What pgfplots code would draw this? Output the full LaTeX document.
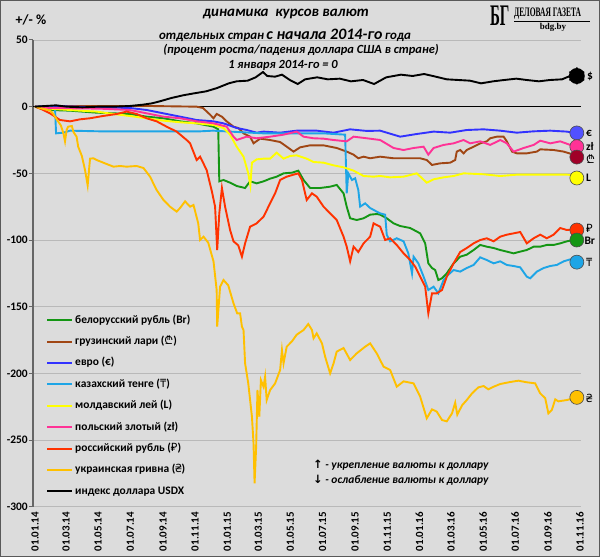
\documentclass[border=0pt]{standalone}
\usepackage{pgfplots}
\pgfplotsset{compat=1.18}
\usepackage{fontspec}
\setmainfont{Carlito}
\newfontfamily\symf{DejaVu Sans}
\newfontfamily\curf{Noto Sans}
\newfontfamily\logof{Liberation Serif}
\definecolor{bg}{RGB}{220,220,220}
\definecolor{cbr}{RGB}{20,150,20}
\definecolor{cge}{RGB}{160,70,20}
\definecolor{cgem}{RGB}{160,0,40}
\definecolor{ceu}{RGB}{50,50,255}
\definecolor{ckz}{RGB}{30,165,230}
\definecolor{cmd}{RGB}{255,255,0}
\definecolor{cpl}{RGB}{255,50,150}
\definecolor{cru}{RGB}{255,50,0}
\definecolor{cua}{RGB}{255,192,0}
\begin{document}
\begin{tikzpicture}
\fill[bg] (0,0) rectangle (600bp,557bp);
\begin{axis}[
 scale only axis, width=547.6bp, height=466.7bp,
 anchor=south west, at={(32.9bp,50.3bp)},
 xmin=-4, xmax=1036, ymin=-300, ymax=50,
 axis lines*=left,
 x axis line style={draw=none},
 y axis line style={draw=gray!80!black, line width=1.5bp},
 xtick={0,59,120,181,243,304,365,424,485,546,608,669,730,790,851,912,974,1035},
 xticklabels={01.01.14,01.03.14,01.05.14,01.07.14,01.09.14,01.11.14,01.01.15,01.03.15,01.05.15,01.07.15,01.09.15,01.11.15,01.01.16,01.03.16,01.05.16,01.07.16,01.09.16,01.11.16},
 xticklabel style={rotate=90, anchor=east, font=\bfseries\fontsize{11}{12}\selectfont, inner sep=1bp},
 xtick style={draw=none},
 ytick={-300,-250,-200,-150,-100,-50,0,50},
 yticklabels={-300,-250,-200,-150,-100,-50,0,50},
 yticklabel style={font=\bfseries\fontsize{11.5}{12}\selectfont, inner sep=1bp},
 ytick style={draw=gray!80!black, line width=1bp},
 tick align=outside, major tick length=4bp,
 ymajorgrids, grid style={draw=gray!55, line width=0.6bp},
 clip=false,
 legend cell align=left,
 legend image code/.code={\draw[#1,line width=2bp] (0bp,0bp) -- (25bp,0bp);},
 legend style={at={(0.024,0.414)}, anchor=north west, draw=none, fill=none,
   font=\bfseries\fontsize{11.5}{13}\selectfont, row sep=8.4bp, inner sep=0pt,
   nodes={inner sep=1bp, text height=8.5bp, text depth=2.5bp},
   /tikz/every odd column/.style={column sep=1bp}},
 every axis plot post/.append style={line width=1.9bp},
]
\draw[black, line width=1.2bp] (axis cs:-4,0) -- (axis cs:1036,0);

\addplot[cbr] coordinates {(0,0) (28.5,-2.5) (66.5,-3) (117,-4.5) (149,-5) (180.5,-5.5) (212,-7.5) (244,-8.7) (275.5,-11) (307,-12.5) (339,-15) (348,-17) (350,-56) (358,-55) (370.5,-57) (383,-59.5) (399,-61) (408.5,-56) (421,-57.5) (434,-56) (446.5,-54) (459,-52.5) (472,-50) (488,-49.5) (500,-48) (510,-55) (522.5,-61) (541.5,-61) (560.5,-60) (573,-58.7) (586,-65) (592,-75) (598.5,-83.7) (611,-85) (624,-83.7) (636.5,-81) (649,-80.5) (655.5,-81) (668,-83.7) (681,-87.5) (693.5,-89.5) (712.5,-91) (731.5,-95) (741,-102.5) (747,-117.5) (754,-121) (760,-122.5) (766,-130) (773,-128.7) (782,-125) (795,-117.5) (807.5,-112.5) (820,-111) (833,-107.5) (845.5,-103.7) (858,-105) (871,-106) (883.5,-107.5) (896,-108.7) (909,-110) (921.5,-108.7) (934,-107.5) (947,-105) (959.5,-105) (972,-103.7) (985,-103.7) (997.5,-102.5) (1010,-101) (1023,-100) (1029,-100)};
\addlegendentry{белорусский рубль (Br)}

\addplot[cge] coordinates {(0,0) (60,0.5) (123.5,0.5) (218.5,0.5) (307,0) (319,-1) (332.5,-6) (339,-8.7) (345,-5.5) (355,-7.5) (364,-11) (377,-15) (386,-16) (396,-20) (408.5,-22.5) (415,-27.5) (427.5,-24) (446.5,-25) (465.5,-26.5) (478,-30) (491,-33.7) (503.5,-30.5) (522.5,-29) (548,-29) (573,-31) (592,-33.7) (605,-36) (614,-38.7) (624,-37.5) (636.5,-38.7) (655.5,-37.5) (681,-38.7) (706,-38.7) (731.5,-38.7) (744,-40) (754,-43.7) (769.5,-42.5) (788.5,-42) (798,-40) (801,-33.7) (807.5,-32.5) (814,-35) (820,-32.5) (833,-30) (845.5,-27.5) (858,-26) (864.5,-23.7) (877,-22.5) (890,-22.5) (896,-26) (906,-33.7) (915,-35) (934,-35) (953,-33.7) (959.5,-32) (985,-32.5) (1004,-33.7) (1023,-36) (1029,-37.8)};
\addlegendentry{грузинский лари ({\curf ₾})}

\addplot[ceu] coordinates {(0,0) (28.5,0.5) (123.5,-0.5) (180.5,-1) (212,-2.5) (244,-5) (275.5,-7.5) (307,-10) (339,-11) (358,-12.5) (383,-16) (402,-17.5) (421,-19.5) (434,-18.7) (465.5,-19.5) (497,-18) (535,-18) (567,-19.5) (598.5,-17) (630,-18.2) (655.5,-18) (693.5,-22.5) (725,-20.5) (757,-18.7) (788.5,-19.5) (820,-17.5) (852,-17) (883.5,-18) (915,-19.5) (947,-18.5) (978.5,-18) (1010,-18.7) (1029,-20)};
\addlegendentry{евро (€)}

\addplot[ckz] coordinates {(0,0) (30,-0.5) (38,-1) (40,-20) (54,-19.5) (66.5,-18) (123.5,-18.5) (218.5,-18.5) (313.5,-18.5) (338,-18) (370.5,-18.7) (433,-20) (498,-20) (547,-20) (589,-21) (592,-65) (595,-50) (602,-55) (608,-53.7) (614,-62.5) (617.5,-75) (627,-72.5) (636.5,-76) (649,-78.7) (655.5,-80) (665,-81) (668,-96) (674.5,-101) (687,-98.7) (700,-101) (709,-110) (716,-125) (719,-112.5) (728,-117.5) (738,-127.5) (747,-137.5) (757,-135) (766,-140) (776,-130) (785,-126) (795,-122.5) (807.5,-123.7) (820,-121) (833,-118.7) (845.5,-113) (858,-115) (871,-117.5) (883.5,-116) (896,-118.7) (909,-119.5) (921.5,-120.5) (934,-127.5) (940.5,-128.7) (953,-123.7) (966,-121) (978.5,-119.5) (991,-118.7) (1004,-116) (1016.5,-114.5) (1029,-116)};
\addlegendentry{казахский тенге ({\curf ₸})}

\addplot[cmd] coordinates {(0,0) (28.5,-1.5) (85.5,-3) (117,-3.7) (149,-5.5) (180.5,-7) (212,-8.7) (244,-10.5) (275.5,-11.7) (307,-12.5) (339,-13.7) (358,-16) (370.5,-21) (383,-30) (396,-37.5) (405,-50) (409,-59) (412,-42) (421,-39.5) (434,-39) (446.5,-39) (459,-34.5) (472,-39) (484.5,-37) (497,-36.5) (516,-39) (529,-41.5) (548,-42) (567,-44) (586,-45.5) (605,-48) (624,-52) (643,-52.5) (655.5,-52) (674.5,-53) (700,-52.5) (725,-50) (744,-57) (757,-54.5) (776,-53) (795,-52) (814,-50) (852,-50.7) (883.5,-52) (915,-51) (947,-51) (978.5,-51) (1010,-51) (1029,-51.5)};
\addlegendentry{молдавский лей (L)}

\addplot[cpl] coordinates {(0,0) (28.5,-1) (123.5,-1.5) (180.5,-2.5) (212,-5) (244,-7.5) (275.5,-8.7) (307,-11) (339,-12.5) (364,-15) (377,-22.5) (383,-25) (402,-22.5) (421,-23.7) (446.5,-22.5) (472,-21) (497,-18.7) (510,-22.5) (529,-23.7) (548,-24) (567,-25) (592,-26) (605,-22.5) (630,-23.7) (655.5,-25) (681,-31) (700,-32.5) (719,-31) (738,-30) (747,-36) (757,-31) (776,-28.7) (795,-27.5) (814,-25) (826.5,-27.5) (845.5,-26) (864.5,-28.7) (883.5,-25) (896,-27.5) (909,-33.7) (928,-31) (947,-28.7) (959.5,-25.5) (978.5,-27.5) (997.5,-26) (1016.5,-28.7) (1029,-30)};
\addlegendentry{польский злотый (zł)}

\addplot[cru] coordinates {(0,0) (13,-2) (28.5,-5) (47.5,-10) (66.5,-11) (85.5,-9.5) (104.5,-8.7) (129,-7) (155,-5.5) (174,-3.7) (193,-5.5) (212,-8.7) (231,-11) (250,-15) (269,-18.7) (288,-25) (294.5,-27.5) (307,-40) (313.5,-37.5) (326,-47.5) (336,-63.7) (342,-75) (346,-107.5) (350,-80) (355,-61) (361,-75) (370.5,-92.5) (377,-101) (386,-104) (393,-112.5) (399,-102.5) (408.5,-90) (421,-87.5) (434,-82.5) (446.5,-72.5) (456,-65) (465.5,-55) (478,-52.5) (491,-51) (500,-50) (507,-55) (516,-70) (526,-65) (535,-67.5) (548,-75) (560.5,-80) (573,-85) (586,-97.5) (592,-105) (598.5,-116) (605,-105) (614,-109) (624,-102.5) (636.5,-97.5) (643,-87.5) (655.5,-90) (665,-100) (674.5,-98.7) (687,-103.7) (700,-110) (712.5,-115) (722,-120) (731.5,-127.5) (741,-135) (747,-155) (754,-140) (763,-140) (773,-137.5) (782,-127.5) (795,-117.5) (807.5,-109) (820,-106) (833,-102.5) (845.5,-100) (858,-98.7) (871,-101) (883.5,-97.5) (896,-96) (909,-95) (921.5,-94) (934,-102.5) (947,-98.7) (959.5,-96) (972,-98.7) (985,-96) (997.5,-91) (1010,-92.5) (1023,-92) (1029,-92.5)};
\addlegendentry{российский рубль ({\curf ₽})}

\addplot[cua] coordinates {(0,0) (28.5,-3) (34,-5) (42,-10) (49,-14) (54,-20) (57,-26) (60,-17.5) (63,-15) (70,-14.5) (73,-19) (79,-22.5) (82,-30) (89,-37) (95,-47.5) (100,-59) (104.5,-39) (111,-38.7) (117,-40) (123.5,-41) (136,-43) (149,-45) (161.5,-44.5) (174,-45) (193,-44.5) (206,-46) (218.5,-52.5) (231,-62.5) (244,-70) (256.5,-75) (269,-78.7) (275.5,-76) (285,-71) (294.5,-75) (301,-73.7) (310,-87.5) (313.5,-100) (320,-97.5) (329,-102) (339,-116) (345,-137.5) (346,-165) (351.5,-135) (358,-130) (367,-134) (377,-147.5) (384,-155) (389.5,-155) (393,-165) (396,-167.5) (399,-192.5) (405,-207.5) (408.5,-220) (412,-232.5) (415,-252.5) (417,-282.5) (420,-255) (422.5,-212.5) (426,-232.5) (429,-205) (434,-210) (437,-202.5) (440,-220) (446.5,-212.5) (456,-207.5) (465.5,-197.5) (469,-182.5) (472,-192.5) (478,-180) (488,-176) (497,-171) (510,-167.5) (519,-163) (526,-167.5) (529,-173.7) (535,-170) (545,-177.5) (551,-187.5) (560.5,-200) (567,-192.5) (573,-183.7) (586,-181) (598.5,-190) (611,-185) (627,-180) (636.5,-177.5) (649,-185) (662,-195) (674.5,-197.5) (687,-210) (700,-206) (719,-207.5) (731.5,-217.5) (744,-233.7) (754,-227) (763,-228.7) (773,-235) (782,-236) (792,-230) (798,-222) (802,-231) (811,-224) (820,-220) (830,-215) (842,-210.5) (852,-209.5) (861,-212) (871,-210) (883.5,-208) (902.5,-206.5) (918,-205.5) (934,-206.7) (950,-207.5) (959.5,-215) (969,-218.7) (975,-230) (981.5,-227.5) (988,-219.5) (994,-221) (1010,-220) (1023,-218.7) (1029,-218)};
\addlegendentry{украинская гривна ({\curf ₴})}

\addplot[black] coordinates {(0,0) (20,0.5) (40,1) (60,0) (90,-0.5) (120,0) (150,0) (180,0.5) (205,1.5) (222,2.5) (237,4) (259,6.5) (281,8.5) (302,10) (325,11.5) (346,14) (368,17.5) (383,19) (404,19.5) (419,22) (433,26) (441,23) (456,22.5) (469,24) (484,20) (499,17) (513,20.5) (536,22) (556,20.5) (579,21) (600,19) (623,20) (644,17) (667,22) (695,24) (717,23) (739,24.5) (761,22.5) (782,20.5) (804,20) (826,19.5) (847,17.5) (870,19) (891,20) (914,21) (934,20) (957,19) (978,20) (1001,20.5) (1016,23) (1029,23)};
\addlegendentry{индекс доллара USDX}

% end markers
\addplot[forget plot, only marks, mark=*, mark size=7bp, mark options={fill=black, draw=black}] coordinates {(1029,23)};
\addplot[forget plot, only marks, mark=asterisk, mark size=8.5bp, mark options={draw=black, line width=1.5bp}] coordinates {(1029,23)};
\addplot[forget plot, only marks, mark=*, mark size=7bp, mark options={fill=ceu!85!white, draw=black!70, line width=0.6bp}] coordinates {(1029,-19.7)};
\addplot[forget plot, only marks, mark=*, mark size=7bp, mark options={fill=cpl, draw=black!70, line width=0.6bp}] coordinates {(1029,-30)};
\addplot[forget plot, only marks, mark=*, mark size=7bp, mark options={fill=cgem, draw=black!70, line width=0.6bp}] coordinates {(1029,-37.8)};
\addplot[forget plot, only marks, mark=*, mark size=7bp, mark options={fill=cmd, draw=black!70, line width=0.6bp}] coordinates {(1029,-53.5)};
\addplot[forget plot, only marks, mark=*, mark size=7bp, mark options={fill=cru, draw=black!70, line width=0.6bp}] coordinates {(1029,-92.5)};
\addplot[forget plot, only marks, mark=*, mark size=7bp, mark options={fill=cbr, draw=black!70, line width=0.6bp}] coordinates {(1029,-100)};
\addplot[forget plot, only marks, mark=*, mark size=7bp, mark options={fill=ckz, draw=black!70, line width=0.6bp}] coordinates {(1029,-116.6)};
\addplot[forget plot, only marks, mark=*, mark size=7bp, mark options={fill=cua, draw=black!70, line width=0.6bp}] coordinates {(1029,-218)};

\begin{scope}[every node/.style={anchor=west, font=\bfseries\fontsize{11.5}{12}\selectfont, inner sep=0pt}]
\node at (axis cs:1029,23) [xshift=10bp] {\$};
\node at (axis cs:1029,-19.7) [xshift=9bp] {€};
\node at (axis cs:1029,-29.5) [xshift=9bp] {zł};
\node at (axis cs:1029,-39) [xshift=9bp] {\curf ₾};
\node at (axis cs:1029,-53.5) [xshift=9bp] {L};
\node at (axis cs:1029,-91) [xshift=9bp] {\curf ₽};
\node at (axis cs:1029,-100.5) [xshift=7.5bp] {Br};
\node at (axis cs:1029,-116.6) [xshift=9bp] {\curf ₸};
\node at (axis cs:1029,-219) [xshift=9bp] {\curf ₴};
\end{scope}
\end{axis}

% titles
\node[font=\bfseries\itshape\fontsize{15}{16}\selectfont] at (286bp,543bp) {динамика\ \ курсов валют};
\node[font=\bfseries\itshape] at (285bp,522bp) {{\fontsize{13}{14}\selectfont отдельных стран} {\fontsize{16}{17}\selectfont с начала 2014-го} {\fontsize{13}{14}\selectfont года}};
\node[font=\bfseries\itshape\fontsize{12.5}{13}\selectfont] at (301bp,507bp) {(процент роста/падения доллара США в стране)};
\node[font=\bfseries\itshape\fontsize{12.5}{13}\selectfont] at (283bp,492bp) {1 января\ 2014-го = 0};
\node[font=\bfseries\fontsize{14}{15}\selectfont] at (31bp,537bp) {+/- \%};

% logo
\node[font=\logof\bfseries\fontsize{30}{30}\selectfont, xscale=0.5, anchor=west, inner sep=0pt] at (490bp,541bp) {БГ};
\node[font=\logof\bfseries\fontsize{13}{13}\selectfont, xscale=0.58, anchor=west, inner sep=0pt] at (514bp,543bp) {ДЕЛОВАЯ ГАЗЕТА};
\draw[black, line width=0.6bp] (514bp,536bp) -- (590bp,536bp);
\node[font=\logof\bfseries\fontsize{9}{9}\selectfont, inner sep=0pt] at (553bp,530bp) {bdg.by};

% note
\node[font=\bfseries\itshape\fontsize{11.5}{12}\selectfont, anchor=west, inner sep=0pt] at (313bp,92bp) {{\symf\upshape ↑} - укрепление валюты к доллару};
\node[font=\bfseries\itshape\fontsize{11.5}{12}\selectfont, anchor=west, inner sep=0pt] at (313bp,77bp) {{\symf\upshape ↓} - ослабление валюты к доллару};

\draw[gray!70!black, line width=1bp] (0.5bp,0.5bp) rectangle (599.5bp,556.5bp);
\pgfresetboundingbox
\path[use as bounding box] (0,0) rectangle (600bp,557bp);
\end{tikzpicture}
\end{document}
